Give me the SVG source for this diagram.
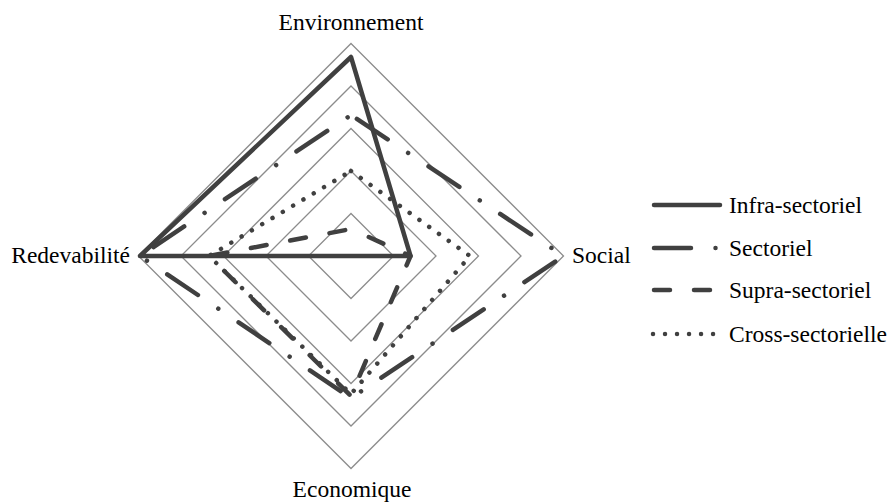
<svg xmlns="http://www.w3.org/2000/svg" width="891" height="502" viewBox="0 0 891 502">
<style>
text{font-family:'Liberation Serif','Times New Roman',serif;font-size:23.5px;fill:#000}
.ring{fill:none;stroke:#8c8c8c;stroke-width:1.3}
.s{fill:none;stroke:#404040;stroke-width:4.5;stroke-linecap:round;stroke-linejoin:round}
.sect{stroke-dasharray:37 24.5 0.01 24.5}
.supra{stroke-dasharray:16 24}
.cross{stroke-dasharray:0.01 12}
</style>
<rect width="891" height="502" fill="#fff"/>
<g id="grid">
<polygon class="ring" points="351,213.5 393.5,256 351,298.5 308.5,256"/>
<polygon class="ring" points="351,171 436,256 351,341 266,256"/>
<polygon class="ring" points="351,128.5 478.5,256 351,383.5 223.5,256"/>
<polygon class="ring" points="351,86 521,256 351,426 181,256"/>
<polygon class="ring" points="351,43.5 563.5,256 351,468.5 138.5,256"/>
</g>
<g id="axis-labels">
<text x="351" y="30" text-anchor="middle">Environnement</text>
<text x="572" y="263">Social</text>
<text x="352" y="497" text-anchor="middle">Economique</text>
<text x="130" y="263" text-anchor="end">Redevabilité</text>
</g>
<g id="series">
<path id="infra-sectoriel" class="s" d="M351,57 L410.5,256 L351,256 L140,256 Z"/>
<path id="sectoriel" class="s sect" stroke-dashoffset="79" d="M351,115 L563.5,256 L351,398 L140,256 Z"/>
<path id="supra-sectoriel" class="s supra" stroke-dashoffset="20.5" d="M351,229 L410.5,256 L351,396 L209,256 Z"/>
<path id="cross-sectorielle" class="s cross" d="M351,171 L470,256 L351,394 L209,256 Z"/>
</g>
<g id="legend">
<g id="leg-infra"><path class="s" d="M654,205 L720,205"/><text x="729" y="213">Infra-sectoriel</text></g>
<g id="leg-sect"><path class="s sect" d="M654,248 L720,248"/><text x="729" y="256">Sectoriel</text></g>
<g id="leg-supra"><path class="s supra" d="M654,290 L720,290"/><text x="729" y="298">Supra-sectoriel</text></g>
<g id="leg-cross"><path class="s cross" d="M653,334 L720,334"/><text x="729" y="342">Cross-sectorielle</text></g>
</g>
</svg>
